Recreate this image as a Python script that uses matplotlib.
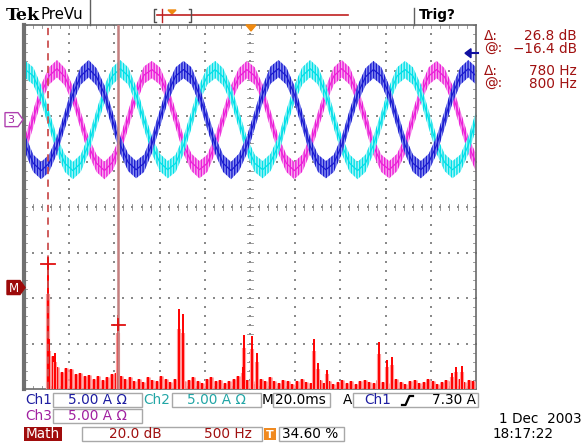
import numpy as np
import matplotlib
matplotlib.use("Agg")
import matplotlib.pyplot as plt
from matplotlib.patches import Rectangle, Polygon

plt.rcParams['font.family'] = ['DejaVu Sans']
plt.rcParams['hatch.linewidth'] = 1.0

# ---------------- data ----------------
ms_per_div = 20.0
amps_per_div = 5.0
time_start_ms = -2.9
time_step_ms = 3.5

ch1_amps = [0.1, -2.7, -4.8, -5.6, -4.8, -2.8, 0.0, 2.8, 4.8, 5.6, 4.7, 2.8,
            0.0, -2.8, -4.7, -5.5, -4.8, -2.7, 0.1, 2.9, 4.8, 5.5, 4.8, 2.7,
            -0.1, -2.8, -4.8, -5.6, -4.7, -2.8, 0.0, 2.8, 4.9, 5.6, 4.8, 2.8,
            0.0, -2.9, -4.8, -5.5, -4.8, -2.8, 0.1, 2.8, 4.7, 5.5, 4.8, 2.8,
            0.0, -2.8, -4.8, -5.5, -4.7, -2.8, 0.0, 2.8, 4.8, 5.6, 4.8]
ch2_amps = [4.7, 5.5, 4.8, 2.8, 0.0, -2.8, -4.8, -5.6, -4.8, -2.7, 0.1, 2.8,
            4.8, 5.6, 4.8, 2.7, -0.1, -2.8, -4.7, -5.5, -4.8, -2.8, 0.0, 2.9,
            4.8, 5.5, 4.7, 2.8, 0.0, -2.9, -4.8, -5.5, -4.7, -2.8, 0.1, 2.8,
            4.8, 5.6, 4.8, 2.8, 0.0, -2.8, -4.8, -5.6, -4.8, -2.8, -0.1, 2.7,
            4.8, 5.5, 4.8, 2.9, 0.0, -2.8, -4.7, -5.5, -4.8, -2.8, 0.0]
ch3_amps = [-4.7, -2.7, 0.1, 2.9, 4.8, 5.6, 4.7, 2.7, -0.1, -2.9, -4.8, -5.6,
            -4.7, -2.8, 0.0, 2.8, 4.9, 5.5, 4.8, 2.8, 0.1, -2.8, -4.7, -5.5,
            -4.8, -2.7, 0.1, 2.8, 4.7, 5.5, 4.8, 2.9, 0.0, -2.8, -4.8, -5.6,
            -4.8, -2.8, -0.1, 2.7, 4.8, 5.6, 4.8, 2.7, 0.0, -2.9, -4.8, -5.5,
            -4.7, -2.8, 0.1, 2.8, 4.8, 5.5, 4.7, 2.8, 0.0, -2.8, -4.8]
ch_offset_div = 1.92
trigger_level_amps = 7.30

# FFT (Math) trace
hz_per_div = 500.0
freq_offset_hz = 245.0
db_per_div = 20.0
math_offset_div = -1.77

peak_freqs_hz = [20, 37, 98, 800, 1470, 1514, 2178, 2189, 2277, 2332, 2963, 3007,
                 3107, 3682, 3770, 3826, 4490, 4534, 4600]
peak_db = [11.0, -22.5, -28.7, -12.0, -9.4, -11.6, -35.0, -20.8, -21.2, -28.7, -22.6, -33.0,
           -36.1, -23.9, -31.8, -30.5, -37.5, -34.9, -34.4]

noise_start_hz = 25
noise_step_hz = 50
noise_db = [-31, -30, -35, -37, -35.5, -36, -38, -37.5, -39, -38.5,
            -40, -39, -40.5, -39.5, -38, -37.5, -39, -40, -39.5, -41,
            -40, -41.5, -39.5, -40.5, -41, -39, -40, -41.5, -40, -39,
            -41, -40.5, -39.5, -41, -42, -40, -39.5, -41, -40.5, -42,
            -41, -40, -39, -41.5, -40.5, -41, -42.5, -40, -41, -39.5,
            -41, -42, -40.5, -41, -42.5, -41, -40, -41.5, -42, -41,
            -40.5, -42, -41, -42.5, -41.5, -40.5, -42, -41, -42.5, -41,
            -40.5, -41.5, -42, -40.5, -41.5, -42, -41, -40, -41.5, -42.5,
            -41, -40.5, -42, -41.5, -40, -41, -42.5, -41.5, -40.5, -41,
            -42, -40, -41.5, -40.5, -41]

cursor_freqs_hz = [20, 800]
cursor_levels_db = [10.4, -16.4]

readout_labels = ["\u0394:", "@:", "\u0394:", "@:"]
readout_values = ["26.8 dB", "\u221216.4 dB", "780 Hz", "800 Hz"]

# ---------------- figure ----------------
W, H = 584, 443
fig = plt.figure(figsize=(W / 100, H / 100), dpi=100)
fig.patch.set_facecolor('white')

gl, gr, gt, gb = 24, 476, 25, 389
ax = fig.add_axes([gl / W, (H - gb) / H, (gr - gl) / W, (gb - gt) / H])
ax.set_xlim(0, 10)
ax.set_ylim(-4, 4)
ax.set_xticks([])
ax.set_yticks([])
for s in ax.spines.values():
    s.set_color('#6a6a6a')
    s.set_linewidth(1.2)
ax.spines['left'].set_linewidth(3.0)
ax.spines['left'].set_color('#707070')

# graticule dots
gx, gy = [], []
for xv in range(1, 10):
    for yv in np.arange(-4, 4.001, 0.2):
        gx.append(xv); gy.append(yv)
for yv in range(-3, 4):
    for xv in np.arange(0, 10.001, 0.2):
        gx.append(xv); gy.append(yv)
ax.scatter(gx, gy, s=1.2, marker='s', color='#8a8a8a', linewidths=0, zorder=1)
# center-line and border ticks
tk = 0.07
for xv in np.arange(0, 10.001, 0.2):
    ax.plot([xv, xv], [-tk, tk], color='#8a8a8a', lw=0.6, zorder=1)
    ax.plot([xv, xv], [4 - tk, 4], color='#8a8a8a', lw=0.6, zorder=1)
    ax.plot([xv, xv], [-4, -4 + tk], color='#8a8a8a', lw=0.6, zorder=1)
for yv in np.arange(-4, 4.001, 0.2):
    ax.plot([5 - tk * 0.8, 5 + tk * 0.8], [yv, yv], color='#8a8a8a', lw=0.6, zorder=1)
    ax.plot([10 - tk * 0.8, 10], [yv, yv], color='#8a8a8a', lw=0.6, zorder=1)
    ax.plot([0, tk * 0.8], [yv, yv], color='#8a8a8a', lw=0.6, zorder=1)

# waveforms
t = time_start_ms + time_step_ms * np.arange(len(ch1_amps))
xdiv = t / ms_per_div
band = 0.19
for amps, dark, light in [(ch3_amps, '#ec1ed8', '#f8aef0'),
                          (ch2_amps, '#00e0e8', '#aef5f8'),
                          (ch1_amps, '#1a1ad0', '#9098f2')]:
    y = np.asarray(amps) / amps_per_div + ch_offset_div
    ax.fill_between(xdiv, y - band, y + band, facecolor=light, edgecolor=dark,
                    hatch='||||||', linewidth=0, zorder=2)
    ax.plot(xdiv, y, color=dark, lw=0.9, zorder=2)


def f2x(f):
    return (np.asarray(f, dtype=float) + freq_offset_hz) / hz_per_div


def db2y(db):
    return np.asarray(db, dtype=float) / db_per_div + math_offset_div


# FFT noise floor
noise_freqs = noise_start_hz + noise_step_hz * np.arange(len(noise_db))
ax.vlines(f2x(noise_freqs), -4, db2y(noise_db), color='#ff9c9c', lw=3.3, zorder=3)
ax.vlines(f2x(noise_freqs), -4, db2y(noise_db), color='#ff0000', lw=1.7, zorder=3)
# FFT peaks
pk_top = db2y(peak_db)
ax.vlines(f2x(peak_freqs_hz), -4, pk_top - 0.25 * (pk_top + 4), color='#ff9c9c', lw=3.0, zorder=3)
ax.vlines(f2x(peak_freqs_hz), -4, pk_top, color='#ff0000', lw=1.4, zorder=3)

# cursors
cx = f2x(cursor_freqs_hz)
cy = db2y(cursor_levels_db)
ax.axvline(cx[0], color='#cc5050', lw=1.3, ls=(0, (4, 3)), zorder=4)
ax.axvline(cx[1], color='#c48080', lw=1.8, zorder=4)
for xv, yv in zip(cx, cy):
    ax.plot([xv - 0.15, xv + 0.15], [yv, yv], color='#e01010', lw=1.3, zorder=5)
    ax.plot([xv, xv], [yv - 0.12, yv + 0.12], color='#e01010', lw=1.3, zorder=5)

# ---------------- overlay (screen chrome) ----------------
ov = fig.add_axes([0, 0, 1, 1])
ov.set_xlim(0, W)
ov.set_ylim(H, 0)
ov.axis('off')
ov.set_zorder(5)

# top bar
ov.text(6, 15, "Tek", fontsize=12.5, fontweight='bold', family='DejaVu Serif', va='center', ha='left')
ov.text(40, 14.5, "PreVu", fontsize=10.8, va='center', ha='left')
ov.plot([90, 90], [0, 25], color='#606060', lw=1)
ov.plot([414, 414], [8, 25], color='#606060', lw=1)
ov.text(419, 15, "Trig?", fontsize=9.8, fontweight='bold', va='center', ha='left')
ov.plot([157, 348], [15, 15], color='#c02020', lw=1.2)
ov.plot([156, 154, 154, 156], [9, 9, 22, 22], color='#505050', lw=1)
ov.plot([189, 191, 191, 189], [9, 9, 22, 22], color='#505050', lw=1)
ov.plot([162, 162], [9, 22], color='#c02020', lw=1)
ov.add_patch(Polygon([[168, 10], [176, 10], [172, 14]], closed=True, color='#f08a10'))
# trigger position marker
ov.add_patch(Polygon([[246, 25], [256, 25], [251, 31]], closed=True, color='#f08a10'))

# channel reference markers
ry = gt + (4 - ch_offset_div) * (gb - gt) / 8
ov.add_patch(Polygon([[5, ry - 7], [18, ry - 7], [23, ry], [18, ry + 7], [5, ry + 7]],
                     closed=True, facecolor='white', edgecolor='#b040b0', lw=1))
ov.text(11, ry + 0.5, "3", fontsize=8, color='#a020a0', va='center', ha='center')
my = gt + (4 - math_offset_div) * (gb - gt) / 8
ov.add_patch(Polygon([[7, my - 7], [20, my - 7], [25, my], [20, my + 7], [7, my + 7]],
                     closed=True, facecolor='#9c0a0a', edgecolor='#9c0a0a', lw=1))
ov.text(13.5, my + 0.5, "M", fontsize=8.5, color='white', va='center', ha='center')

# trigger level arrow (right)
ty = gt + (4 - (trigger_level_amps / amps_per_div + ch_offset_div)) * (gb - gt) / 8
ov.add_patch(Polygon([[465, ty], [471, ty - 4.5], [471, ty + 4.5]], closed=True, color='#1010a0'))
ov.plot([470, 478], [ty, ty], color='#1010a0', lw=1.5)

# right-side cursor readouts
ry_list = [36, 48.5, 71, 83.5]
for lab, val, yy in zip(readout_labels, readout_values, ry_list):
    ov.text(484, yy, lab, fontsize=9.8, color='#a01010', va='center', ha='left')
    ov.text(577, yy, val, fontsize=9.8, color='#a01010', va='center', ha='right')

# bottom readouts
box_ec = '#a8a8a8'


def box(x0, x1, y0, y1):
    ov.add_patch(Rectangle((x0, y0), x1 - x0, y1 - y0, facecolor='white', edgecolor=box_ec, lw=1))


fs = 9.8
ov.text(25, 400, "Ch1", fontsize=fs, color='#1c1ca0', va='center', ha='left')
box(53, 142, 393, 407)
ov.text(97, 400.5, "5.00 A \u03a9", fontsize=fs, color='#1c1ca0', va='center', ha='center')
ov.text(143, 400, "Ch2", fontsize=fs, color='#22a6a6', va='center', ha='left')
box(172, 261, 393, 407)
ov.text(216, 400.5, "5.00 A \u03a9", fontsize=fs, color='#22a6a6', va='center', ha='center')
ov.text(262, 400, "M", fontsize=fs, color='black', va='center', ha='left')
box(273, 330, 393, 407)
ov.text(275, 400.5, "20.0ms", fontsize=fs, color='black', va='center', ha='left')
ov.text(343, 400.5, "A", fontsize=fs, color='black', va='center', ha='left')
box(353, 478, 393, 407)
ov.text(364, 400.5, "Ch1", fontsize=fs, color='#1c1ca0', va='center', ha='left')
ov.plot([402, 405.5, 409.5, 413], [405, 405, 396, 396], color='black', lw=1.6)
ov.text(476, 400.5, "7.30 A", fontsize=fs, color='black', va='center', ha='right')

ov.text(25, 416, "Ch3", fontsize=fs, color='#a020a0', va='center', ha='left')
box(53, 142, 409, 423)
ov.text(97, 416.5, "5.00 A \u03a9", fontsize=fs, color='#a020a0', va='center', ha='center')

ov.add_patch(Rectangle((24, 427), 38, 14, facecolor='#a00c0c', edgecolor='none'))
ov.text(43, 434, "Math", fontsize=fs, color='white', va='center', ha='center')
box(82, 262, 427, 441)
ov.text(135, 434.5, "20.0 dB", fontsize=fs, color='#a01010', va='center', ha='center')
ov.text(252, 434.5, "500 Hz", fontsize=fs, color='#a01010', va='center', ha='right')
ov.add_patch(Rectangle((264, 428), 12, 12, facecolor='#f08a20', edgecolor='none'))
ov.text(270, 434.5, "T", fontsize=8, color='white', fontweight='bold', va='center', ha='center')
box(279, 344, 427, 441)
ov.text(282, 434.5, "34.60 %", fontsize=fs, color='black', va='center', ha='left')

ov.text(582, 419, "1 Dec  2003", fontsize=fs, color='black', va='center', ha='right')
ov.text(493, 434.5, "18:17:22", fontsize=fs, color='black', va='center', ha='left')

fig.savefig("out.png", dpi=100, facecolor='white')
